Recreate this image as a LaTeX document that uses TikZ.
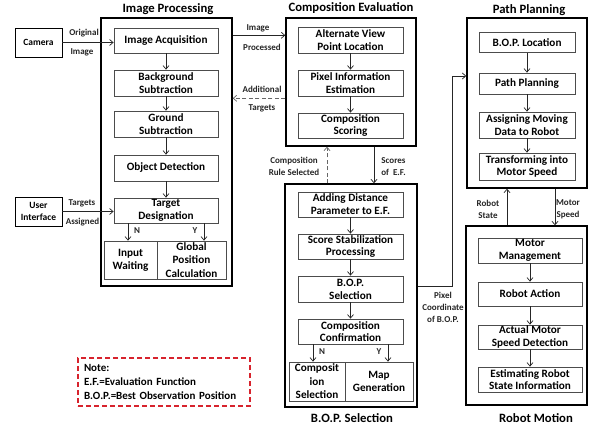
\documentclass[tikz,border=0pt]{standalone}
\usepackage{fontspec}
\setmainfont{Carlito}
\usetikzlibrary{arrows.meta}
\definecolor{notered}{RGB}{215,35,45}
\begin{document}
\begin{tikzpicture}[x=1pt,y=-1pt,
 inner/.style={draw=black!70, line width=0.8pt, align=center, font=\fontsize{11.2}{12.8}\selectfont\bfseries, inner sep=0pt, minimum width=#1},
 inner/.default=105pt,
 outer/.style={draw=black, line width=1.4pt, inner sep=0pt},
 ttl/.style={font=\fontsize{12.7}{14}\selectfont\bfseries, inner sep=0pt},
 lbl/.style={font=\fontsize{9}{12}\selectfont\bfseries, inner sep=0pt, text=black!85, align=center},
 side/.style={draw=black, line width=0.9pt, font=\fontsize{9.5}{12}\selectfont\bfseries, align=center, inner sep=0pt, minimum width=47pt, minimum height=29pt},
 arr/.style={-{Straight Barb[length=3.5pt,width=6pt]}, line width=0.7pt, draw=black!85},
 darr/.style={arr, dash pattern=on 4pt off 2.5pt, draw=black!60}]
\useasboundingbox[fill=white] (0,0) rectangle (597,429);

% outer boxes
\node[outer, minimum width=131pt, minimum height=268pt] (ipb) at (166.5,152) {};
\node[outer, minimum width=130pt, minimum height=128pt] (ceb) at (351,82) {};
\node[outer, minimum width=132pt, minimum height=223pt] (bopb) at (351,295.5) {};
\node[outer, minimum width=120pt, minimum height=170pt] (ppb) at (527,103) {};
\node[outer, minimum width=121pt, minimum height=179pt] (rmb) at (526.5,315.5) {};

% titles
\node[ttl] (t1) at (168,9) {Image Processing};
\node[ttl] (t2) at (351,8) {Composition Evaluation};
\node[ttl] (t3) at (529,10) {Path Planning};
\node[ttl] (t4) at (352,418) {B.O.P. Selection};
\node[ttl] (t5) at (536,418) {Robot Motion};

% side inputs
\node[side] (cam) at (38.5,42.5) {Camera};
\node[side] (ui) at (38.5,211.5) {User\\Interface};

% image processing
\node[inner=104pt, minimum height=25pt] (ia) at (166,40.5) {Image Acquisition};
\node[inner=104pt, minimum height=26pt] (bs) at (166,83) {Background\\Subtraction};
\node[inner=104pt, minimum height=26pt] (gs) at (166,124) {Ground\\Subtraction};
\node[inner=104pt, minimum height=26pt] (od) at (166,168) {Object Detection};
\node[inner=104pt, minimum height=25pt] (td) at (166,210.5) {Target\\Designation};
\node[inner=53pt, minimum height=38pt] (iw) at (130.5,260) {Input\\Waiting};
\node[inner=69pt, minimum height=38pt, font=\fontsize{11.2}{13.5}\selectfont\bfseries] (gp) at (191.5,260) {Global\\Position\\Calculation};

% composition evaluation
\node[inner, minimum height=26pt] (av) at (350.5,40) {Alternate View\\Point Location};
\node[inner, minimum height=26pt] (pi) at (350.5,83) {Pixel Information\\Estimation};
\node[inner, minimum height=25pt] (cs) at (350.5,125.5) {Composition\\Scoring};

% bop selection
\node[inner, minimum height=25pt] (ad) at (350.5,204.5) {Adding Distance\\Parameter to E.F.};
\node[inner, minimum height=25pt] (ss) at (350.5,246.5) {Score Stabilization\\Processing};
\node[inner, minimum height=26pt] (bsel) at (350.5,289) {B.O.P.\\Selection};
\node[inner, minimum height=25pt] (cc) at (350.5,331.5) {Composition\\Confirmation};
\node[inner=56pt, minimum height=39pt, font=\fontsize{11.2}{13.5}\selectfont\bfseries] (csel) at (317,381.5) {Composit\\ion\\Selection};
\node[inner=68pt, minimum height=39pt] (mg) at (379,381.5) {Map\\Generation};

% path planning
\node[inner=96pt, minimum height=20pt] (bl) at (527,42.5) {B.O.P. Location};
\node[inner=96pt, minimum height=21pt] (pp) at (527,83.5) {Path Planning};
\node[inner=96pt, minimum height=26pt] (am) at (527,125) {Assigning Moving\\Data to Robot};
\node[inner=96pt, minimum height=27pt] (tm) at (527,166.5) {Transforming into\\Motor Speed};

% robot motion
\node[inner=104pt, minimum height=25pt] (mm) at (530,250.5) {Motor\\Management};
\node[inner=104pt, minimum height=24pt] (ra) at (530,294) {Robot Action};
\node[inner=104pt, minimum height=24pt] (amd) at (530,337) {Actual Motor\\Speed Detection};
\node[inner=104pt, minimum height=25pt] (es) at (530,379.5) {Estimating Robot\\State Information};

% inner arrows
\foreach \a/\b in {ia/bs,bs/gs,gs/od,od/td,av/pi,pi/cs,ad/ss,ss/bsel,bsel/cc,bl/pp,pp/am,am/tm,mm/ra,ra/amd,amd/es}
  \draw[arr] (\a.south) -- (\b.north);
\draw[arr] ([xshift=-38pt]td.south) -- ([xshift=-38pt]td.south |- iw.north);
\draw[arr] ([xshift=38pt]td.south) -- ([xshift=38pt]td.south |- gp.north);
\draw[arr] ([xshift=-37.5pt]cc.south) -- ([xshift=-37.5pt]cc.south |- csel.north);
\draw[arr] ([xshift=37.5pt]cc.south) -- ([xshift=37.5pt]cc.south |- mg.north);
\node[lbl] (n1) at (137,231) {N};
\node[lbl] (y1) at (195,231) {Y};
\node[lbl] (n2) at (322,352) {N};
\node[lbl] (y2) at (379,352) {Y};

% connectors between blocks
\draw[arr] (cam.east) -- (cam.east -| ia.west);
\node[lbl] (l1) at (84,33) {Original};
\node[lbl] (l2) at (82,52) {Image};
\draw[arr] (ui.east) -- (ui.east -| td.west);
\node[lbl] (l3) at (82,203) {Targets};
\node[lbl] (l4) at (82.5,222) {Assigned};

\draw[arr] ([yshift=-18pt]ipb.north east) -- ([yshift=-18pt]ipb.north east -| ceb.west);
\node[lbl] (l5) at (258,28) {Image};
\node[lbl] (l6) at (262,47) {Processed};
\draw[darr] ([yshift=-81pt]ceb.north west) -- ([yshift=-81pt]ceb.north west -| ipb.east);
\node[lbl] (l7) at (262,89) {Additional};
\node[lbl] (l8) at (262,108) {Targets};

\draw[darr] ([xshift=-24pt]bopb.north) -- ([xshift=-24pt]bopb.north |- ceb.south);
\node[lbl] (l9) at (294,166.5) {Composition\\Rule Selected};
\draw[arr] ([xshift=23pt]ceb.south) -- ([xshift=23pt]ceb.south |- bopb.north);
\node[lbl] (l10) at (393.5,166.5) {Scores\\of\ \ E.F.};

\coordinate (pc1) at (452,286);
\coordinate (pc2) at (452,76);
\draw[arr] (bopb.east |- pc1) -- (pc1) -- (pc2) -- (ppb.west |- pc2);
\node[lbl] (l11) at (443,307) {Pixel\\Coordinate\\of B.O.P.};

\draw[arr] ([xshift=-19.5pt]rmb.north) -- ([xshift=-19.5pt]rmb.north |- ppb.south);
\node[lbl] (l12) at (488,209) {Robot\\State};
\draw[arr] ([xshift=28pt]ppb.south) -- ([xshift=28pt]ppb.south |- rmb.north);
\node[lbl] (l13) at (568,209) {Motor\\Speed};

% note
\node[draw=notered, line width=1.3pt, dash pattern=on 5pt off 3pt, text width=160pt, inner sep=6pt, minimum height=48pt, align=left, font=\fontsize{11}{14}\selectfont\bfseries] (note) at (164,382) {Note:\\E.F.=Evaluation Function\\B.O.P.=Best Observation Position};
\end{tikzpicture}
\end{document}
